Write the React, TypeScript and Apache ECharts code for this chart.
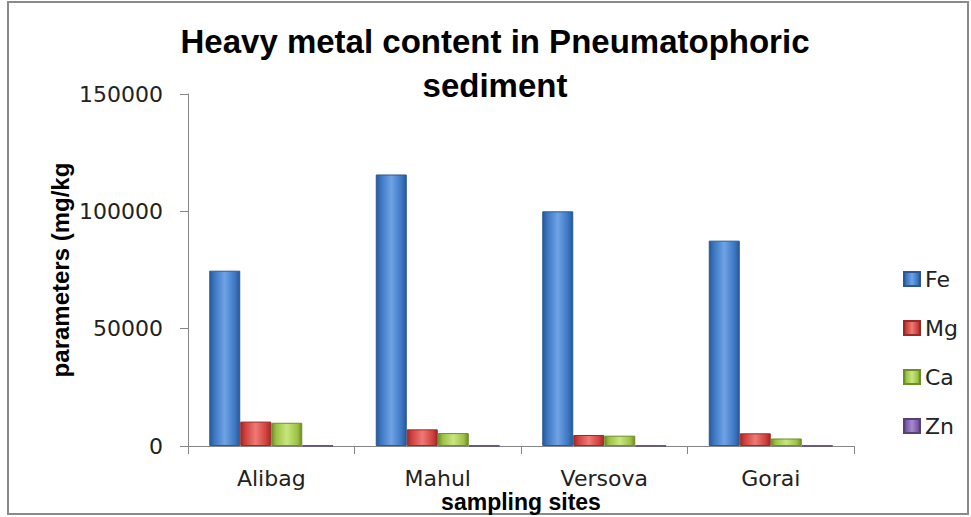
import React, { useEffect, useRef } from "react";
import * as echarts from "echarts";

const categories = ["Alibag", "Mahul", "Versova", "Gorai"];
const feValues = [74700, 115700, 100000, 87500];
const mgValues = [10400, 7100, 4700, 5400];
const caValues = [9900, 5500, 4400, 3200];
const znValues = [150, 130, 120, 110];
const yTicks = [0, 50000, 100000, 150000];

const seriesDefs = [
  { name: "Fe", data: feValues, base: "#3B76C2", light: "#6FA3E4", dark: "#2A5894" },
  { name: "Mg", data: mgValues, base: "#D0403C", light: "#EE7A76", dark: "#9A2A27" },
  { name: "Ca", data: caValues, base: "#9DC245", light: "#C7E67F", dark: "#6E8E2A" },
  { name: "Zn", data: znValues, base: "#7A5BA8", light: "#A68AD0", dark: "#55407A" },
];

export default function App() {
  const ref = useRef<HTMLDivElement>(null);
  useEffect(() => {
    if (!ref.current) return;
    const chart = echarts.init(ref.current, null, { renderer: "svg" });
    const font = "DejaVu Sans";
    chart.setOption({
      animation: false,
      backgroundColor: "#ffffff",
      title: {
        text: "Heavy metal content in Pneumatophoric\nsediment",
        left: 490,
        top: 14,
        textAlign: "center",
        textStyle: {
          fontFamily: "Liberation Sans",
          fontWeight: "bold",
          fontSize: 33,
          lineHeight: 44,
          color: "#000",
        },
      },
      graphic: [
        {
          type: "rect",
          shape: { x: 8, y: 2, width: 960, height: 512 },
          style: { fill: "none", stroke: "#8a8a8a", lineWidth: 2 },
          silent: true,
        },
      ],
      legend: {
        orient: "vertical",
        left: 898,
        top: 263,
        itemWidth: 16,
        itemHeight: 14,
        itemGap: 27,
        icon: "rect",
        textStyle: { fontFamily: font, fontSize: 22, lineHeight: 22, color: "#222" },
        data: seriesDefs.map((s) => s.name),
      },
      grid: {
        left: 188,
        right: 117,
        top: 94,
        bottom: 71,
        containLabel: false,
        outerBoundsMode: "none",
      },
      xAxis: {
        type: "category",
        data: categories,
        boundaryGap: true,
        name: "sampling sites",
        nameLocation: "middle",
        nameGap: 44,
        nameMoveOverlap: false,
        nameTextStyle: {
          fontFamily: "Liberation Sans",
          fontWeight: "bold",
          fontSize: 23,
          lineHeight: 23,
          color: "#000",
        },
        axisLine: { lineStyle: { color: "#868686", width: 1 } },
        axisTick: { show: true, alignWithLabel: false, length: 8, lineStyle: { color: "#868686" } },
        axisLabel: { fontFamily: font, fontSize: 22, lineHeight: 22, color: "#222", margin: 21 },
        splitLine: { show: false },
      },
      yAxis: {
        type: "value",
        min: 0,
        max: 150000,
        interval: 50000,
        name: "parameters (mg/kg",
        nameLocation: "middle",
        nameGap: 116,
        nameRotate: 90,
        nameMoveOverlap: false,
        nameTextStyle: { fontFamily: "Liberation Sans", fontWeight: "bold", fontSize: 24, color: "#000" },
        axisLine: { show: true, lineStyle: { color: "#868686", width: 1 } },
        axisTick: { show: true, length: 8, lineStyle: { color: "#868686" } },
        axisLabel: {
          fontFamily: font,
          fontSize: 22,
          color: "#222",
          margin: 25,
          formatter: (v: number) => (yTicks.includes(v) ? String(v) : ""),
        },
        splitLine: { show: false },
      },
      series: seriesDefs.map((s) => ({
        name: s.name,
        type: "bar",
        data: s.data,
        barWidth: 31,
        barGap: "0%",
        itemStyle: {
          color: new echarts.graphic.LinearGradient(0, 0, 1, 0, [
            { offset: 0, color: s.dark },
            { offset: 0.15, color: s.base },
            { offset: 0.5, color: s.light },
            { offset: 0.85, color: s.base },
            { offset: 1, color: s.dark },
          ]),
          borderColor: s.dark,
          borderWidth: 1,
        },
        emphasis: { disabled: true },
      })),
    });
    return () => chart.dispose();
  }, []);
  return (
    <div
      ref={ref}
      style={{ position: "absolute", left: 0, top: 0, width: 971, height: 517 }}
    />
  );
}
